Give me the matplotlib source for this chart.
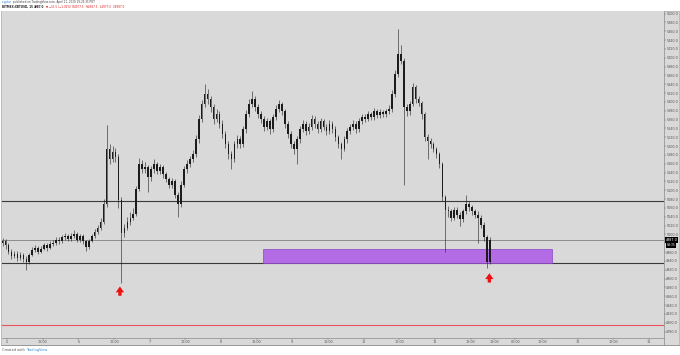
import numpy as np
import matplotlib
matplotlib.use("Agg")
import matplotlib.pyplot as plt
from matplotlib.patches import Rectangle

# ---------------- data (BITMEX:XBTUSD, hourly view of the 15m chart) ----------------
closes = [4984, 4975, 4961, 4952, 4956, 4947, 4954, 4945, 4938, 4954,
          4965, 4970, 4961, 4968, 4975, 4970, 4979, 4981, 4988, 4984,
          4993, 4997, 4990, 4997, 5002, 4988, 4997, 4984, 4972, 4986,
          4997, 5006, 5015, 5029, 5068, 5193, 5170, 5186, 5175, 5079,
          5004, 5015, 5029, 5038, 5047, 5102, 5159, 5147, 5152, 5129,
          5147, 5159, 5143, 5152, 5136, 5125, 5113, 5120, 5090, 5068,
          5113, 5147, 5159, 5170, 5181, 5215, 5261, 5295, 5318, 5306,
          5288, 5261, 5272, 5250, 5227, 5204, 5181, 5170, 5204, 5215,
          5204, 5238, 5272, 5295, 5306, 5288, 5272, 5261, 5243, 5256,
          5238, 5265, 5284, 5295, 5279, 5250, 5227, 5204, 5193, 5215,
          5238, 5250, 5234, 5243, 5261, 5250, 5238, 5256, 5243, 5234,
          5250, 5238, 5220, 5204, 5193, 5215, 5234, 5243, 5250, 5238,
          5256, 5265, 5261, 5272, 5265, 5279, 5270, 5277, 5272, 5279,
          5284, 5318, 5363, 5409, 5393, 5288, 5279, 5295, 5334, 5306,
          5297, 5272, 5220, 5211, 5204, 5193, 5181, 5159, 5084, 5056,
          5052, 5038, 5056, 5045, 5034, 5052, 5068, 5061, 5052, 5045,
          5038, 5022, 4993, 4938, 4987]
highs = [4992, 4990, 4980, 4966, 4963, 4962, 4960, 4958, 4950, 4958,
         4971, 4977, 4974, 4973, 4981, 4980, 4984, 4988, 4994, 4993,
         4999, 5004, 5001, 5003, 5009, 5006, 5002, 5000, 4988, 4990,
         5002, 5012, 5021, 5036, 5080, 5247, 5205, 5200, 5195, 5182,
         5085, 5024, 5040, 5050, 5060, 5110, 5172, 5168, 5163, 5158,
         5155, 5170, 5165, 5160, 5158, 5142, 5130, 5128, 5125, 5096,
         5120, 5155, 5168, 5178, 5192, 5225, 5270, 5305, 5340, 5330,
         5314, 5295, 5285, 5280, 5258, 5235, 5212, 5190, 5212, 5225,
         5222, 5246, 5282, 5306, 5324, 5313, 5295, 5280, 5268, 5264,
         5262, 5272, 5293, 5305, 5300, 5285, 5256, 5234, 5212, 5222,
         5246, 5260, 5256, 5252, 5270, 5268, 5256, 5264, 5262, 5250,
         5258, 5256, 5245, 5226, 5210, 5222, 5240, 5250, 5258, 5256,
         5263, 5273, 5272, 5280, 5278, 5286, 5284, 5283, 5282, 5285,
         5292, 5326, 5372, 5465, 5428, 5400, 5296, 5303, 5342, 5338,
         5313, 5302, 5278, 5228, 5218, 5210, 5198, 5186, 5163, 5090,
         5064, 5058, 5062, 5062, 5050, 5058, 5090, 5075, 5066, 5058,
         5052, 5043, 5027, 4998, 4993]
lows = [4974, 4968, 4955, 4945, 4946, 4940, 4941, 4938, 4920, 4932,
        4950, 4960, 4955, 4957, 4964, 4963, 4966, 4974, 4977, 4978,
        4980, 4988, 4985, 4986, 4992, 4982, 4983, 4978, 4963, 4968,
        4982, 4992, 5001, 5010, 5024, 5062, 5160, 5163, 5165, 5060,
        4890, 4995, 5010, 5022, 5032, 5042, 5098, 5138, 5140, 5097,
        5122, 5140, 5136, 5136, 5128, 5118, 5105, 5106, 5082, 5040,
        5062, 5108, 5140, 5152, 5163, 5176, 5208, 5254, 5288, 5296,
        5278, 5250, 5254, 5240, 5218, 5195, 5170, 5147, 5165, 5196,
        5195, 5198, 5230, 5265, 5288, 5280, 5263, 5252, 5234, 5236,
        5228, 5232, 5258, 5278, 5270, 5242, 5218, 5196, 5182, 5159,
        5208, 5232, 5226, 5228, 5236, 5242, 5230, 5232, 5236, 5226,
        5228, 5230, 5212, 5195, 5170, 5188, 5208, 5228, 5236, 5230,
        5232, 5250, 5254, 5256, 5258, 5260, 5263, 5264, 5266, 5266,
        5273, 5278, 5312, 5356, 5385, 5113, 5268, 5270, 5290, 5298,
        5290, 5262, 5212, 5170, 5196, 5186, 5172, 5150, 5076, 4961,
        5040, 5030, 5032, 5036, 5018, 5028, 5046, 5054, 5044, 5038,
        4981, 5014, 4985, 4925, 4932]
first_open = 4980
opens = [first_open] + closes[:-1]

# hours since Apr 5 00:00 of each candle
bar_hours = np.arange(len(closes)) - 1.5

# drawn levels
resistance = 5075
price_line = 4988
support = 4936
zone_top, zone_bottom = 4968, 4936
zone_start_h, zone_end_h = 86.0, 183.5
red_level = 4795
arrow_hours = [38.0, 162.3]
arrow_tops = [4882, 4912]
arrow_bottoms = [4861, 4891]

y_ticks = list(range(4780, 5501, 20))
x_tick_hours = [0, 12, 24, 36, 48, 60, 72, 84, 96, 108, 120, 132, 144, 156,
                164, 171, 180, 192, 204, 216]
x_tick_labels = ['5', '12:00', '6', '12:00', '7', '12:00', '8', '12:00', '9',
                 '12:00', '10', '12:00', '11', '12:00', '18:00', '00:00',
                 '12:00', '13', '12:00', '14']

# ---------------- figure ----------------
W, H = 680, 355
fig = plt.figure(figsize=(W / 100, H / 100), dpi=100, facecolor='white')

def fx(px):
    return px / W

def fy(py):
    return 1 - py / H

bg = '#d9d9d9'
frame = Rectangle((fx(1), fy(344.5)), fx(678), (344.5 - 10.5) / H,
                  transform=fig.transFigure, facecolor=bg,
                  edgecolor='#a8a8a8', linewidth=0.5, zorder=-10)
fig.patches.append(frame)

left, right, top, bottom = 1.5, 663.5, 11.0, 337.7
ax = fig.add_axes([fx(left), fy(bottom), fx(right - left), (bottom - top) / H])
ax.set_zorder(1)
ax.set_facecolor(bg)

x_left_h = (left - 7) / 2.972
x_right_h = (right - 7) / 2.972
ax.set_xlim(x_left_h, x_right_h)
ax.set_ylim(4766, 5506)

# candles
o = np.array(opens, float)
c = np.array(closes, float)
hi = np.array(highs, float)
lo = np.array(lows, float)
ax.vlines(bar_hours, lo, hi, color='#1c1c1c', linewidth=0.4, zorder=3)
body_bottom = np.minimum(o, c)
body_h = np.maximum(np.abs(c - o), 1.0)
ax.bar(bar_hours, body_h, bottom=body_bottom, width=0.55, color='#1c1c1c',
       linewidth=0, zorder=3)

# horizontal levels
ax.axhline(resistance, color='#3a3a3a', linewidth=0.8, zorder=2)
ax.axhline(price_line, color='#8c8c8c', linewidth=0.7, zorder=2)
ax.axhline(support, color='#3a3a3a', linewidth=0.8, zorder=2)
ax.axhline(red_level, color='#e8545a', linewidth=0.8, zorder=2)

# purple zone
ax.add_patch(Rectangle((zone_start_h, zone_bottom), zone_end_h - zone_start_h,
                       zone_top - zone_bottom, facecolor='#b36be6',
                       edgecolor='#8a44c0', linewidth=0.5, zorder=2.5))

# red arrows
for ah, atop, abot in zip(arrow_hours, arrow_tops, arrow_bottoms):
    ax.annotate('', xy=(ah, atop), xytext=(ah, abot),
                arrowprops=dict(arrowstyle='simple,head_length=0.42,head_width=0.6,tail_width=0.24',
                                color='#ee1111', linewidth=0, shrinkA=0, shrinkB=0,
                                mutation_scale=10), zorder=5)

# axes styling
for s in ax.spines.values():
    s.set_visible(False)
ax.spines['right'].set_visible(True)
ax.spines['right'].set_color('#8a8a8a')
ax.spines['right'].set_linewidth(0.5)
ax.spines['bottom'].set_visible(True)
ax.spines['bottom'].set_color('#8a8a8a')
ax.spines['bottom'].set_linewidth(0.5)

ax.yaxis.tick_right()
ax.set_yticks(y_ticks)
ax.set_yticklabels(['' if abs(v - price_line) < 12 else f'{v:.1f}' for v in y_ticks])
ax.tick_params(axis='y', labelsize=2.4, colors='#555555', length=1.2,
               width=0.3, pad=0.8)
ax.set_xticks(x_tick_hours)
ax.set_xticklabels(x_tick_labels)
ax.tick_params(axis='x', labelsize=2.4, colors='#555555', length=1.2,
               width=0.3, pad=0.8)

# last price tag
ax.annotate('4987.0', xy=(1.0, price_line), xycoords=('axes fraction', 'data'),
            xytext=(1.5, 0), textcoords='offset points', fontsize=2.4,
            color='white', va='center', ha='left', annotation_clip=False,
            bbox=dict(boxstyle='square,pad=0.25', fc='black', ec='black', lw=0))
ax.annotate('09:35', xy=(1.0, price_line - 13), xycoords=('axes fraction', 'data'),
            xytext=(2.2, 0), textcoords='offset points', fontsize=2.2,
            color='white', va='center', ha='left', annotation_clip=False,
            bbox=dict(boxstyle='square,pad=0.2', fc='black', ec='black', lw=0))

# bottom frame line of time axis
fig.add_artist(plt.Line2D([fx(1), fx(679)], [fy(344.5), fy(344.5)],
                          color='#8a8a8a', linewidth=0.5))
fig.add_artist(plt.Line2D([fx(663.5), fx(663.5)], [fy(337.7), fy(344.5)],
                          color='#8a8a8a', linewidth=0.5))

# header, placed piece by piece
renderer = fig.canvas.get_renderer()

def text_row(x0, ypx, pieces, size):
    x = x0
    for s, col, wt in pieces:
        t = fig.text(fx(x), fy(ypx), s, fontsize=size, color=col, fontweight=wt,
                     va='center', ha='left')
        bb = t.get_window_extent(renderer=renderer)
        x += bb.width + 1.2

text_row(2, 2.3, [('cryptor', '#2a7fd4', 'normal'),
                  ('published on TradingView.com, April 11, 2019 19:25:35 PDT', '#444444', 'normal')],
         2.0)
text_row(2, 6.8, [('BITMEX:XBTUSD, 15', '#222222', 'bold'),
                  ('4987.0', '#222222', 'bold'),
                  ('\u25bc \u221251.5 (\u22121.02%)', '#e02020', 'normal'),
                  ('O:4977.5', '#e02020', 'normal'),
                  ('H:4987.5', '#e02020', 'normal'),
                  ('L:4977.0', '#e02020', 'normal'),
                  ('C:4987.0', '#e02020', 'normal')],
         2.0)

# footer
text_row(2, 350, [('Created with', '#555555', 'normal'),
                  ('TradingView', '#2a8ad8', 'normal')], 2.5)

fig.savefig('out.png', dpi=100, facecolor='white')
